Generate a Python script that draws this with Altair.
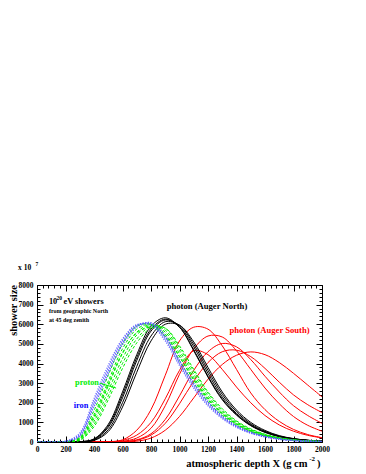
import altair as alt
import pandas as pd

# ---------------- data ----------------
DEPTH = [0, 100, 200, 300, 400, 500, 600, 700, 800, 900, 1000,
         1100, 1200, 1300, 1400, 1500, 1600, 1700, 1800, 1900, 2000]

# photon, Auger North (black)
NORTH_1 = [0, 0, 0, 15, 160, 900, 2550, 4450, 5900, 6330, 5850, 4650, 3300, 2150, 1370, 830, 490, 275, 150, 80, 40]
NORTH_2 = [0, 0, 0, 10, 120, 750, 2250, 4150, 5650, 6220, 5900, 4850, 3500, 2300, 1450, 880, 520, 290, 160, 85, 40]
NORTH_3 = [0, 0, 0, 8, 95, 630, 2000, 3850, 5400, 6130, 5950, 4980, 3650, 2430, 1540, 930, 545, 300, 165, 85, 40]
NORTH_4 = [0, 0, 0, 5, 75, 530, 1780, 3550, 5150, 6000, 5950, 5100, 3800, 2550, 1630, 1000, 590, 325, 175, 90, 45]
NORTH_5 = [0, 0, 0, 12, 140, 820, 2400, 4300, 5750, 6260, 5850, 4700, 3350, 2200, 1400, 850, 500, 280, 150, 80, 40]

# proton (green)
PROTON_1 = [0, 0, 15, 250, 1600, 3400, 5000, 5900, 6000, 5350, 4150, 3000, 2050, 1350, 850, 520, 300, 170, 90, 45, 20]
PROTON_2 = [0, 0, 10, 200, 1400, 3100, 4750, 5750, 6000, 5500, 4350, 3150, 2150, 1420, 900, 550, 320, 180, 95, 50, 25]
PROTON_3 = [0, 0, 8, 160, 1200, 2850, 4500, 5600, 5980, 5600, 4500, 3300, 2250, 1480, 940, 580, 340, 190, 100, 50, 25]
PROTON_4 = [0, 0, 5, 130, 1050, 2600, 4250, 5450, 5950, 5700, 4650, 3450, 2350, 1550, 990, 610, 360, 200, 105, 55, 25]
PROTON_5 = [0, 0, 5, 100, 900, 2350, 4000, 5250, 5900, 5800, 4800, 3600, 2480, 1630, 1040, 640, 380, 210, 110, 55, 25]
PROTON_6 = [0, 0, 3, 80, 780, 2150, 3750, 5050, 5800, 5800, 4900, 3700, 2550, 1700, 1080, 670, 400, 220, 115, 60, 30]
PROTON_7 = [0, 0, 10, 190, 1300, 2950, 4550, 5550, 5850, 5400, 4350, 3200, 2200, 1450, 920, 560, 330, 185, 95, 50, 25]

# iron (blue)
IRON_1 = [0, 0, 40, 450, 2200, 3900, 5250, 5980, 5950, 5150, 3900, 2750, 1850, 1200, 750, 450, 260, 140, 75, 40, 20]
IRON_2 = [0, 0, 30, 380, 2050, 3750, 5150, 5950, 6000, 5250, 4000, 2850, 1920, 1250, 780, 470, 270, 150, 80, 40, 20]
IRON_3 = [0, 0, 25, 330, 1900, 3600, 5050, 5900, 6050, 5350, 4100, 2950, 2000, 1300, 810, 490, 280, 155, 80, 40, 20]
IRON_4 = [0, 0, 20, 300, 1800, 3500, 4950, 5850, 6080, 5400, 4150, 3000, 2050, 1330, 830, 500, 290, 160, 85, 45, 20]

# photon, Auger South (red)
SOUTH_1 = [0, 0, 0, 0, 0, 15, 110, 600, 1650, 3400, 5150, 5850, 5750, 4900, 3700, 2500, 1650, 1050, 640, 380, 220]
SOUTH_2 = [0, 0, 0, 0, 0, 5, 40, 200, 700, 1850, 3450, 4750, 5400, 5350, 4650, 3700, 2750, 1950, 1300, 850, 550]
SOUTH_3 = [0, 0, 0, 0, 0, 3, 20, 110, 420, 1150, 2350, 3650, 4600, 5020, 4850, 4200, 3350, 2550, 1850, 1350, 950]
SOUTH_4 = [0, 0, 0, 0, 0, 0, 5, 40, 200, 600, 1300, 2250, 3200, 3950, 4420, 4590, 4450, 4050, 3500, 2900, 2300]
SOUTH_5 = [0, 0, 0, 0, 0, 10, 80, 350, 1000, 2200, 3650, 4650, 4450, 3700, 2800, 2000, 1350, 870, 550, 340, 210]
SOUTH_6 = [0, 0, 0, 0, 0, 2, 15, 90, 350, 950, 1950, 3100, 4050, 4600, 4680, 4350, 3750, 3050, 2400, 1900, 1500]

CURVES = [
    ("south", "s1", SOUTH_1), ("south", "s2", SOUTH_2), ("south", "s3", SOUTH_3),
    ("south", "s4", SOUTH_4), ("south", "s5", SOUTH_5), ("south", "s6", SOUTH_6),
    ("north", "n1", NORTH_1), ("north", "n2", NORTH_2), ("north", "n3", NORTH_3),
    ("north", "n4", NORTH_4), ("north", "n5", NORTH_5),
    ("proton", "p1", PROTON_1), ("proton", "p2", PROTON_2), ("proton", "p3", PROTON_3),
    ("proton", "p4", PROTON_4), ("proton", "p5", PROTON_5), ("proton", "p6", PROTON_6),
    ("proton", "p7", PROTON_7),
    ("iron", "i1", IRON_1), ("iron", "i2", IRON_2), ("iron", "i3", IRON_3), ("iron", "i4", IRON_4),
]

X_LABELS = [0, 200, 400, 600, 800, 1000, 1200, 1400, 1600, 1800, 2000]
Y_LABELS = [0, 1000, 2000, 3000, 4000, 5000, 6000, 7000, 8000]
X_MINOR = [v for v in range(0, 2001, 40) if v % 200 != 0]
Y_MINOR = [v for v in range(0, 8001, 200) if v % 1000 != 0]

PROTON_POINTER_X = [440, 555]
PROTON_POINTER_Y = [3000, 2750]

rows = []
for group, name, vals in CURVES:
    for x, v in zip(DEPTH, vals):
        rows.append({"group": group, "curve": name, "X": x, "N": v})
df = pd.DataFrame(rows)

# ---------------- chart ----------------
W, H = 285, 157
FONT = "Liberation Serif"
xs = alt.Scale(domain=[0, 2000], nice=False, zero=False)
ys = alt.Scale(domain=[0, 8000], nice=False, zero=False)

DUMMY = pd.DataFrame({"X": [0, 2000], "N": [0, 8000]})


def curve_layer(group, color, width, dash=None, opacity=1.0):
    kw = dict(color=color, strokeWidth=width, interpolate="catmull-rom", clip=True, opacity=opacity)
    if dash is not None:
        kw["strokeDash"] = dash
    return alt.Chart(df[df.group == group]).mark_line(**kw).encode(
        x=alt.X("X:Q", scale=xs, axis=None),
        y=alt.Y("N:Q", scale=ys, axis=None),
        detail="curve:N",
    )


def tick_layer(xvals, yvals, size, x_orient, y_orient):
    common = dict(labels=False, domain=False, grid=False, title=None,
                  tickColor="black", tickWidth=1, tickSize=size)
    return alt.Chart(DUMMY).mark_point(opacity=0).encode(
        x=alt.X("X:Q", scale=xs, axis=alt.Axis(orient=x_orient, offset=-H, values=xvals, **common)),
        y=alt.Y("N:Q", scale=ys, axis=alt.Axis(orient=y_orient, offset=-W, values=yvals, **common)),
    )


def label(text, x, y, size, color="black", align="left", baseline="alphabetic", angle=None):
    kw = dict(font=FONT, fontWeight="bold", fontSize=size, color=color,
              align=align, baseline=baseline)
    if angle is not None:
        kw["angle"] = angle
    d = pd.DataFrame({"X": [x], "N": [y], "t": [text]})
    return alt.Chart(d).mark_text(**kw).encode(
        x=alt.X("X:Q", scale=xs, axis=None),
        y=alt.Y("N:Q", scale=ys, axis=None),
        text="t:N",
    )


label_axes = alt.Chart(DUMMY).mark_point(opacity=0).encode(
    x=alt.X("X:Q", scale=xs, axis=alt.Axis(
        orient="bottom", values=X_LABELS, format="d", ticks=False, domain=False, grid=False,
        title=None, labelFont=FONT, labelFontWeight="bold", labelFontSize=7.5,
        labelColor="black", labelPadding=3.5, labelFlush=False, labelOverlap=False, labelBound=False)),
    y=alt.Y("N:Q", scale=ys, axis=alt.Axis(
        orient="left", values=Y_LABELS, format="d", ticks=False, domain=False, grid=False,
        title=None, labelFont=FONT, labelFontWeight="bold", labelFontSize=7.5,
        labelColor="black", labelPadding=4, labelFlush=False, labelOverlap=False, labelBound=False)),
)

pointer = alt.Chart(pd.DataFrame({
    "X": [PROTON_POINTER_X[0]], "N": [PROTON_POINTER_Y[0]],
    "X2": [PROTON_POINTER_X[1]], "N2": [PROTON_POINTER_Y[1]],
})).mark_rule(color="#00ee00", strokeWidth=1).encode(
    x=alt.X("X:Q", scale=xs, axis=None), y=alt.Y("N:Q", scale=ys, axis=None),
    x2="X2:Q", y2="N2:Q",
)

layers = [
    curve_layer("south", "#ff0000", 1.0),
    curve_layer("north", "#000000", 1.0),
    curve_layer("proton", "#00ee00", 1.0, [3, 2]),
    curve_layer("iron", "#5a5aff", 1.4, [1.2, 1.3], 0.85),
    pointer,
    tick_layer(X_LABELS, Y_LABELS, 6, "top", "right"),
    tick_layer(X_LABELS, Y_LABELS, 6, "bottom", "left"),
    tick_layer(X_MINOR, Y_MINOR, 3, "top", "right"),
    tick_layer(X_MINOR, Y_MINOR, 3, "bottom", "left"),
    label_axes,
    label("x 10", -133, 8739, 7.5),
    label("7", -10, 8968, 5.5),
    label("10", 84, 7032, 8.3),
    label("20", 137, 7261, 5.5),
    label("eV showers", 186, 7032, 8.3),
    label("from geographic North", 84, 6570, 6),
    label("at 45 deg zenith", 84, 6110, 6),
    label("photon (Auger North)", 1193, 6780, 8.6, align="center"),
    label("photon (Auger South)", 1632, 5540, 8.6, color="#ff0000", align="center"),
    label("proton", 351, 2904, 8.3, color="#00ee00", align="center"),
    label("iron", 309, 1732, 8.3, color="#0000ff", align="center"),
    label("shower size", -158, 8000, 10.5, align="right", baseline="middle", angle=270),
    label("atmospheric depth X (g cm", 1898, -1274, 10.5, align="right"),
    label("-2", 1951, -968, 7, align="right"),
    label(")", 1989, -1274, 10.5, align="right"),
]

chart = alt.layer(*layers).resolve_axis(
    x="independent", y="independent"
).properties(
    width=W, height=H,
    padding={"left": 29, "top": 277, "right": 36, "bottom": 30},
    autosize=alt.AutoSizeParams(type="none"),
).configure_view(stroke="black", strokeWidth=1)

chart.save("out.html", embed_options={"renderer": "svg", "actions": False})
